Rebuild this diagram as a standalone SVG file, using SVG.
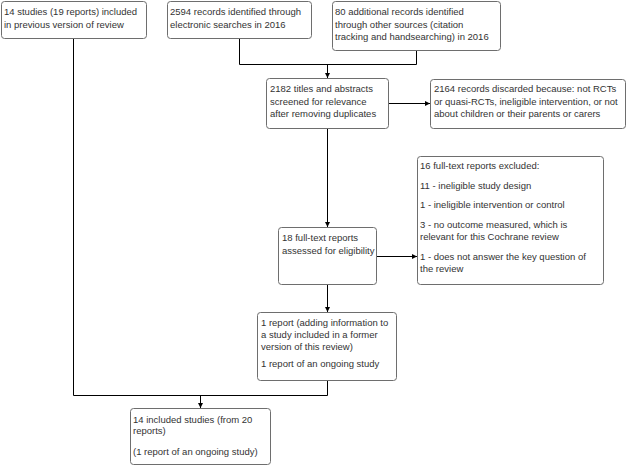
<svg xmlns="http://www.w3.org/2000/svg" width="627" height="466" viewBox="0 0 627 466">
<style>
.box{fill:#fff;stroke:#6e6e6e;stroke-width:1}
.t{font-family:"Liberation Sans",Arial,sans-serif;font-size:9.5px;fill:#333}
.c{fill:none;stroke:#000;stroke-width:1}
</style>
<defs>
<marker id="ah" markerUnits="userSpaceOnUse" markerWidth="6" markerHeight="6" refX="5" refY="3" orient="auto">
<path d="M0,0.5 L5,3 L0,5.5 Z" fill="#000"/>
</marker>
</defs>
<rect width="627" height="466" fill="#fff"/>
<g id="connectors">
<polyline class="c" points="239.5,38 239.5,64.5 416.5,64.5 416.5,50"/>
<line class="c" x1="327.5" y1="64.5" x2="327.5" y2="78" marker-end="url(#ah)"/>
<line class="c" x1="388" y1="103.5" x2="430" y2="103.5" marker-end="url(#ah)"/>
<line class="c" x1="327.5" y1="128" x2="327.5" y2="227" marker-end="url(#ah)"/>
<line class="c" x1="376" y1="256.5" x2="417" y2="256.5" marker-end="url(#ah)"/>
<line class="c" x1="327.5" y1="284" x2="327.5" y2="312" marker-end="url(#ah)"/>
<polyline class="c" points="73.5,38 73.5,395.5 327.5,395.5 327.5,380"/>
<line class="c" x1="200.5" y1="395.5" x2="200.5" y2="408" marker-end="url(#ah)"/>
</g>
<g id="previous">
<rect class="box" x="1.5" y="1.5" width="145" height="37" rx="3"/>
<text class="t" x="4" y="15">14 studies (19 reports) included</text>
<text class="t" x="4" y="27.5">in previous version of review</text>
</g>
<g id="electronic">
<rect class="box" x="167.5" y="1.5" width="144" height="37" rx="3"/>
<text class="t" x="170" y="15">2594 records identified through</text>
<text class="t" x="170" y="27.5">electronic searches in 2016</text>
</g>
<g id="other">
<rect class="box" x="332.5" y="1.5" width="168" height="49" rx="3"/>
<text class="t" x="335" y="15">80 additional records identified</text>
<text class="t" x="335" y="27.5">through other sources (citation</text>
<text class="t" x="335" y="40">tracking and handsearching) in 2016</text>
</g>
<g id="screened">
<rect class="box" x="266.5" y="78.5" width="122" height="50" rx="3"/>
<text class="t" x="270" y="92">2182 titles and abstracts</text>
<text class="t" x="270" y="104.5">screened for relevance</text>
<text class="t" x="270" y="117">after removing duplicates</text>
</g>
<g id="discarded">
<rect class="box" x="430.5" y="79.5" width="195" height="49" rx="3"/>
<text class="t" x="434" y="92">2164 records discarded because: not RCTs</text>
<text class="t" x="434" y="104.5">or quasi-RCTs, ineligible intervention, or not</text>
<text class="t" x="434" y="117">about children or their parents or carers</text>
</g>
<g id="fulltext">
<rect class="box" x="278.5" y="227.5" width="98" height="57" rx="3"/>
<text class="t" x="282" y="241">18 full-text reports</text>
<text class="t" x="282" y="253.5">assessed for eligibility</text>
</g>
<g id="excluded">
<rect class="box" x="417.5" y="156.5" width="186" height="128" rx="3"/>
<text class="t" x="420" y="169">16 full-text reports excluded:</text>
<text class="t" x="420" y="188.5">11 - ineligible study design</text>
<text class="t" x="420" y="208">1 - ineligible intervention or control</text>
<text class="t" x="420" y="227.5">3 - no outcome measured, which is</text>
<text class="t" x="420" y="240">relevant for this Cochrane review</text>
<text class="t" x="420" y="259.5">1 - does not answer the key question of</text>
<text class="t" x="420" y="272">the review</text>
</g>
<g id="added">
<rect class="box" x="257.5" y="312.5" width="139" height="68" rx="3"/>
<text class="t" x="261" y="326">1 report (adding information to</text>
<text class="t" x="261" y="338">a study included in a former</text>
<text class="t" x="261" y="350">version of this review)</text>
<text class="t" x="261" y="367">1 report of an ongoing study</text>
</g>
<g id="included">
<rect class="box" x="130.5" y="408.5" width="140" height="56" rx="3"/>
<text class="t" x="133" y="422.5">14 included studies (from 20</text>
<text class="t" x="133" y="434">reports)</text>
<text class="t" x="133" y="455">(1 report of an ongoing study)</text>
</g>
</svg>
